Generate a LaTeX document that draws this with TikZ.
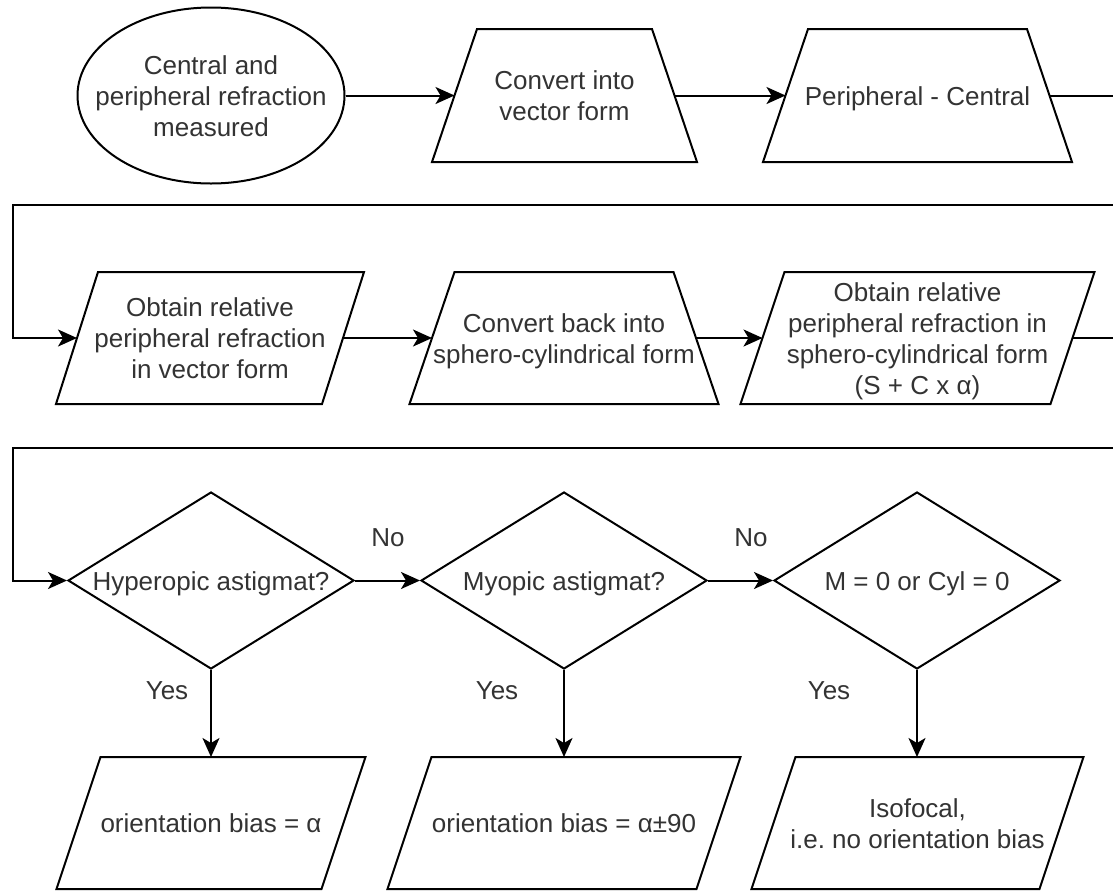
\documentclass[tikz,border=0pt]{standalone}
\usepackage{fontspec}
\setmainfont{Liberation Sans}
\usetikzlibrary{arrows.meta,shapes.geometric}
\definecolor{txt}{HTML}{333333}
\frenchspacing
\newcommand\mlines[1]{\makebox[0pt]{\raisebox{-3.5pt}[\height][\depth]{\begin{tabular}{@{}c@{}}#1\end{tabular}}}}
\newcommand\trapout[2]{\draw[shp] ([xshift=#2]#1.north west) -- ([xshift=-#2]#1.north east) -- ([xshift=#2]#1.south east) -- ([xshift=-#2]#1.south west) -- cycle;}
\newcommand\parout[2]{\draw[shp] ([xshift=#2]#1.north west) -- ([xshift=#2]#1.north east) -- ([xshift=-#2]#1.south east) -- ([xshift=-#2]#1.south west) -- cycle;}
\tikzset{
  fnt/.style={text=txt, font=\fontsize{26}{31}\selectfont},
  shp/.style={draw=black, line width=2pt, line join=miter},
  box/.style={fnt, inner sep=0pt, outer sep=0pt, minimum width=#1, minimum height=132pt},
  ellbox/.style={ellipse, shp, fnt, inner sep=0pt, minimum width=267pt, minimum height=176pt},
  decis/.style={diamond, shp, fnt, inner sep=0pt, minimum width=286pt, minimum height=177pt},
  lbl/.style={fnt, inner sep=0pt},
  arr/.style={draw=black, line width=2pt, -{Stealth[length=19pt,width=17pt,inset=5pt]}},
}
\begin{document}
\begin{tikzpicture}[x=1pt,y=-1pt]
\useasboundingbox (0,0) rectangle (1113,892);
\clip (0,0) rectangle (1113,892);
\fill[white] (0,0) rectangle (1113,892);

% Row 1
\node[ellbox] (ell) at (211,95.5) {\mlines{Central and\\peripheral refraction\\measured}};
\node[box=220pt, minimum height=133pt] (t1) at (564.5,95.5) {\mlines{Convert into\\vector form}};
\trapout{t1}{22.5pt}
\node[box=264pt, minimum height=133pt] (t2) at (917.5,95.5) {\mlines{Peripheral - Central}};
\trapout{t2}{22.5pt}

% Row 2
\node[box=266pt] (p1) at (210,338) {\mlines{Obtain relative\\peripheral refraction\\in vector form}};
\parout{p1}{21pt}
\node[box=264pt] (t3) at (564,338) {\mlines{Convert back into\\sphero-cylindrical form}};
\trapout{t3}{22.5pt}
\node[box=310pt] (p2) at (917.5,338) {\mlines{Obtain relative\\peripheral refraction in\\sphero-cylindrical form\\(S + C x α)}};
\parout{p2}{22pt}

% Row 3: decisions
\node[decis] (d1) at (211,580.5) {\mlines{Hyperopic astigmat?}};
\node[decis] (d2) at (564,580.5) {\mlines{Myopic astigmat?}};
\node[decis] (d3) at (917,580.5) {\mlines{M = 0 or Cyl = 0}};

% Row 4: results
\node[box=265pt] (b1) at (211,823) {\mlines{orientation bias = α}};
\parout{b1}{22pt}
\node[box=309pt] (b2) at (564,823) {\mlines{orientation bias = α±90}};
\parout{b2}{22pt}
\node[box=288pt] (b3) at (917.5,823) {\mlines{Isofocal,\\i.e. no orientation bias}};
\parout{b3}{22pt}

% connectors
\coordinate (c1) at (1130,205);
\coordinate (c2) at (12.5,205);
\coordinate (c3) at (1130,448);
\coordinate (c4) at (12.5,448);

\draw[arr] (ell.east) -- (t1.west);
\draw[arr] (t1.east) -- (t2.west);
\draw[arr] (t2.east) -| (c1) -- (c2) |- (p1.west);
\draw[arr] (p1.east) -- (t3.west);
\draw[arr] (t3.east) -- (p2.west);
\draw[arr] (p2.east) -| (c3) -- (c4) |- (d1.west);
\draw[arr] (d1.east) -- (d2.west);
\draw[arr] (d2.east) -- (d3.west);
\draw[arr] (d1.south) -- (d1.south |- b1.north);
\draw[arr] (d2.south) -- (d2.south |- b2.north);
\draw[arr] (d3.south) -- (d3.south |- b3.north);

% labels
\node[lbl] (no1) at (388,538) {No};
\node[lbl] (no2) at (751,538) {No};
\node[lbl] (yes1) at (167,691) {Yes};
\node[lbl] (yes2) at (497,691) {Yes};
\node[lbl] (yes3) at (829,691) {Yes};
\end{tikzpicture}
\end{document}
